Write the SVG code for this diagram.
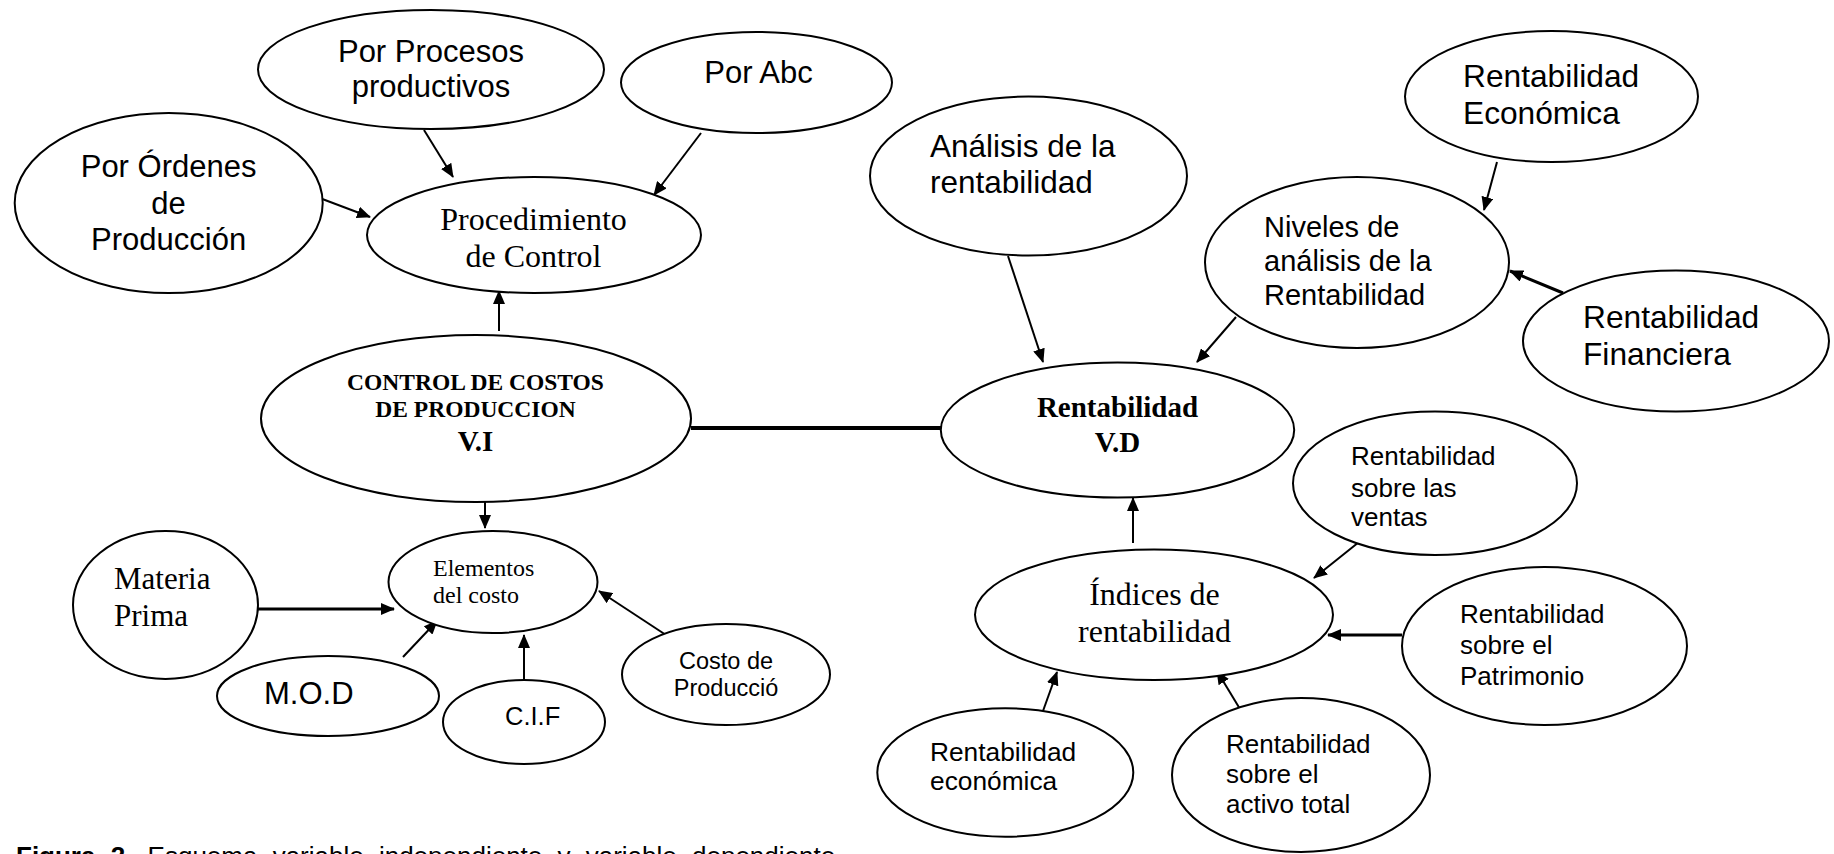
<svg xmlns="http://www.w3.org/2000/svg" width="1834" height="854" viewBox="0 0 1834 854">
  <defs>
    <marker id="arrow" viewBox="0 0 14 12" refX="13" refY="6" markerWidth="14" markerHeight="12" markerUnits="userSpaceOnUse" orient="auto">
      <path d="M0,0 L14,6 L0,12 z" fill="#000"/>
    </marker>
    <style>
      .node ellipse { fill: #fff; stroke: #000; stroke-width: 2; }
      .sans { font-family: "Liberation Sans", Arial, sans-serif; fill: #000; }
      .serif { font-family: "Liberation Serif", "Times New Roman", serif; fill: #000; }
      .bold { font-weight: bold; }
      .mid { text-anchor: middle; }
      .edge { stroke: #000; stroke-width: 2; fill: none; }
      .edge.thick { stroke-width: 3; }
      .edge.heavy { stroke-width: 4; }
      .arr { marker-end: url(#arrow); }
    </style>
  </defs>

  <rect width="1834" height="854" fill="#fff"/>

  <!-- connectors -->
  <g id="connectors">
    <line class="edge arr" x1="317" y1="197" x2="370" y2="217"/>
    <line class="edge arr" x1="424" y1="130" x2="453" y2="177"/>
    <line class="edge arr" x1="701" y1="133" x2="654" y2="195"/>
    <line class="edge arr" x1="499" y1="331" x2="499" y2="291"/>
    <line class="edge arr" x1="485" y1="497" x2="485" y2="528"/>
    <line class="edge thick arr" x1="258" y1="609" x2="394" y2="609"/>
    <line class="edge arr" x1="403" y1="657" x2="437" y2="621"/>
    <line class="edge arr" x1="524" y1="679" x2="524" y2="635"/>
    <line class="edge arr" x1="666" y1="635" x2="599" y2="591"/>
    <line class="edge heavy" x1="691" y1="428" x2="941" y2="428"/>
    <line class="edge arr" x1="1008" y1="256" x2="1043" y2="362"/>
    <line class="edge arr" x1="1236" y1="317" x2="1197" y2="362"/>
    <line class="edge arr" x1="1497" y1="162" x2="1484" y2="210"/>
    <line class="edge thick arr" x1="1563" y1="293" x2="1510" y2="271"/>
    <line class="edge arr" x1="1133" y1="543" x2="1133" y2="498"/>
    <line class="edge arr" x1="1359" y1="542" x2="1314" y2="578"/>
    <line class="edge thick arr" x1="1402" y1="635" x2="1328" y2="635"/>
    <line class="edge arr" x1="1043" y1="711" x2="1057" y2="672"/>
    <line class="edge arr" x1="1240" y1="709" x2="1217" y2="671"/>
  </g>

  <!-- cost control side -->
  <g id="por-ordenes" class="node">
    <ellipse cx="168.7" cy="203" rx="154" ry="90"/>
    <text class="sans mid" font-size="31" x="168.6" y="177">Por Órdenes</text>
    <text class="sans mid" font-size="31" x="168.6" y="213.5">de</text>
    <text class="sans mid" font-size="31" x="168.6" y="250">Producción</text>
  </g>

  <g id="por-procesos" class="node">
    <ellipse cx="431" cy="69.5" rx="173" ry="59.5"/>
    <text class="sans mid" font-size="31" x="431" y="62">Por Procesos</text>
    <text class="sans mid" font-size="31" x="431" y="97">productivos</text>
  </g>

  <g id="por-abc" class="node">
    <ellipse cx="756.5" cy="82.5" rx="135.5" ry="50.5"/>
    <text class="sans mid" font-size="31" x="758.5" y="83">Por Abc</text>
  </g>

  <g id="procedimiento" class="node">
    <ellipse cx="534" cy="235" rx="167" ry="58"/>
    <text class="serif mid" font-size="32" x="533.5" y="230">Procedimiento</text>
    <text class="serif mid" font-size="32" x="533.5" y="267">de Control</text>
  </g>

  <g id="control-costos" class="node">
    <ellipse cx="476" cy="418.5" rx="215" ry="83.5"/>
    <text class="serif bold mid" font-size="23.5" x="475.5" y="390">CONTROL DE COSTOS</text>
    <text class="serif bold mid" font-size="23.5" x="475.5" y="417">DE PRODUCCION</text>
    <text class="serif bold mid" font-size="29" x="475.5" y="451">V.I</text>
  </g>

  <g id="elementos" class="node">
    <ellipse cx="493" cy="582" rx="104.5" ry="51"/>
    <text class="serif" font-size="24" x="433" y="575.5">Elementos</text>
    <text class="serif" font-size="24" x="433" y="603">del costo</text>
  </g>

  <g id="materia-prima" class="node">
    <ellipse cx="165.5" cy="605" rx="92.5" ry="74"/>
    <text class="serif" font-size="31" x="114" y="589">Materia</text>
    <text class="serif" font-size="31" x="114" y="626">Prima</text>
  </g>

  <g id="mod" class="node">
    <ellipse cx="328" cy="696" rx="111" ry="40"/>
    <text class="sans" font-size="31" x="264" y="704">M.O.D</text>
  </g>

  <g id="cif" class="node">
    <ellipse cx="524" cy="722" rx="81" ry="42"/>
    <text class="sans" font-size="25.5" x="505" y="724.5">C.I.F</text>
  </g>

  <g id="costo-produccion" class="node">
    <ellipse cx="726" cy="674.5" rx="104" ry="50.5"/>
    <text class="sans mid" font-size="23.5" x="726" y="669">Costo de</text>
    <text class="sans mid" font-size="23.5" x="726" y="696">Producció</text>
  </g>

  <!-- profitability side -->
  <g id="analisis" class="node">
    <ellipse cx="1028.5" cy="176" rx="158.5" ry="79.5"/>
    <text class="sans" font-size="31.5" x="930" y="156.7">Análisis de la</text>
    <text class="sans" font-size="31.5" x="930" y="193">rentabilidad</text>
  </g>

  <g id="rent-economica-nivel" class="node">
    <ellipse cx="1551.5" cy="96.5" rx="146.5" ry="65.5"/>
    <text class="sans" font-size="31.7" x="1463" y="87">Rentabilidad</text>
    <text class="sans" font-size="31.7" x="1463" y="124">Económica</text>
  </g>

  <g id="niveles" class="node">
    <ellipse cx="1357" cy="262.5" rx="152" ry="85.5"/>
    <text class="sans" font-size="29" x="1264" y="236.7">Niveles de</text>
    <text class="sans" font-size="29" x="1264" y="270.5">análisis de la</text>
    <text class="sans" font-size="29" x="1264" y="304.5">Rentabilidad</text>
  </g>

  <g id="rent-financiera" class="node">
    <ellipse cx="1676" cy="341" rx="153" ry="70.5"/>
    <text class="sans" font-size="31.7" x="1583" y="328">Rentabilidad</text>
    <text class="sans" font-size="31.7" x="1583" y="365">Financiera</text>
  </g>

  <g id="rentabilidad-vd" class="node">
    <ellipse cx="1117.5" cy="430" rx="176.7" ry="67.5"/>
    <text class="serif bold mid" font-size="29" x="1117.5" y="416.7">Rentabilidad</text>
    <text class="serif bold mid" font-size="29" x="1117.5" y="451.7">V.D</text>
  </g>

  <g id="rent-ventas" class="node">
    <ellipse cx="1435" cy="483.3" rx="142" ry="71.7"/>
    <text class="sans" font-size="26" x="1351" y="465">Rentabilidad</text>
    <text class="sans" font-size="26" x="1351" y="496.5">sobre las</text>
    <text class="sans" font-size="26" x="1351" y="526">ventas</text>
  </g>

  <g id="indices" class="node">
    <ellipse cx="1154" cy="614.7" rx="179" ry="65.3"/>
    <text class="serif mid" font-size="32" x="1154.5" y="605">Índices de</text>
    <text class="serif mid" font-size="32" x="1154.5" y="641.7">rentabilidad</text>
  </g>

  <g id="rent-patrimonio" class="node">
    <ellipse cx="1544.5" cy="646" rx="142.5" ry="79"/>
    <text class="sans" font-size="26" x="1460" y="622.7">Rentabilidad</text>
    <text class="sans" font-size="26" x="1460" y="654">sobre el</text>
    <text class="sans" font-size="26" x="1460" y="685">Patrimonio</text>
  </g>

  <g id="rent-economica" class="node">
    <ellipse cx="1005.3" cy="772.5" rx="128" ry="64.2"/>
    <text class="sans" font-size="26.3" x="930" y="760.7">Rentabilidad</text>
    <text class="sans" font-size="26.3" x="930" y="790">económica</text>
  </g>

  <g id="rent-activo" class="node">
    <ellipse cx="1301" cy="775" rx="129" ry="77"/>
    <text class="sans" font-size="26" x="1226" y="753.3">Rentabilidad</text>
    <text class="sans" font-size="26" x="1226" y="783.3">sobre el</text>
    <text class="sans" font-size="26" x="1226" y="813.3">activo total</text>
  </g>

  <!-- caption, clipped by the bottom edge -->
  <text class="sans" font-size="26" word-spacing="8" x="16" y="865"><tspan font-weight="bold">Figura 2.</tspan> Esquema variable independiente y variable dependiente</text>
</svg>
